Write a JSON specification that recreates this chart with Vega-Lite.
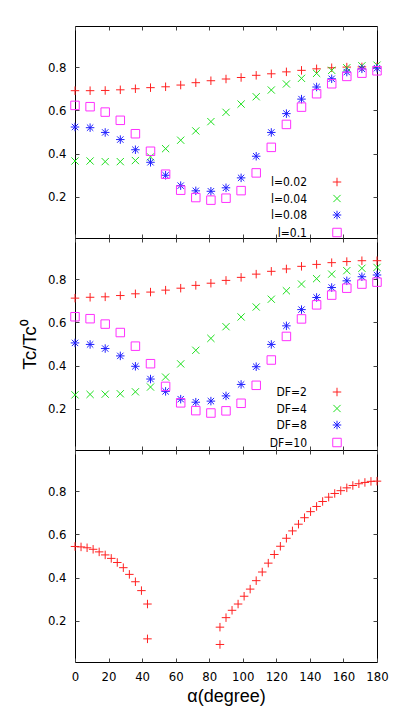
{
  "$schema": "https://vega.github.io/schema/vega-lite/v6.json",
  "padding": {"left": 19, "top": 25, "right": 5, "bottom": 5},
  "background": "white",
  "config": {
    "view": {"stroke": "black", "strokeWidth": 1},
    "axis": {"grid": false, "domain": false, "tickSize": -4, "tickColor": "#444", "labelFlush": false, "labelOverlap": false, "labelFont": "Liberation Sans Narrow, DejaVu Sans Condensed, Liberation Sans", "labelFontSize": 13, "labelColor": "black", "titleFont": "Liberation Sans", "titleFontWeight": "normal", "titleColor": "black"},
    "legend": {"labelFont": "Liberation Sans Narrow, DejaVu Sans Condensed, Liberation Sans", "labelFontSize": 12, "labelColor": "black"}
  },
  "datasets": {
    "p1": [
      {"a":0,"t":0.691,"s":"l=0.02"},{"a":9,"t":0.691,"s":"l=0.02"},{"a":18,"t":0.692,"s":"l=0.02"},{"a":27,"t":0.695,"s":"l=0.02"},{"a":36,"t":0.7,"s":"l=0.02"},{"a":45,"t":0.705,"s":"l=0.02"},{"a":54,"t":0.709,"s":"l=0.02"},{"a":63,"t":0.717,"s":"l=0.02"},{"a":72,"t":0.728,"s":"l=0.02"},{"a":81,"t":0.737,"s":"l=0.02"},{"a":90,"t":0.745,"s":"l=0.02"},{"a":99,"t":0.752,"s":"l=0.02"},{"a":108,"t":0.762,"s":"l=0.02"},{"a":117,"t":0.769,"s":"l=0.02"},{"a":126,"t":0.778,"s":"l=0.02"},{"a":135,"t":0.785,"s":"l=0.02"},{"a":144,"t":0.792,"s":"l=0.02"},{"a":153,"t":0.797,"s":"l=0.02"},{"a":162,"t":0.8,"s":"l=0.02"},{"a":171,"t":0.801,"s":"l=0.02"},{"a":180,"t":0.802,"s":"l=0.02"},
      {"a":0,"t":0.366,"s":"l=0.04"},{"a":9,"t":0.366,"s":"l=0.04"},{"a":18,"t":0.363,"s":"l=0.04"},{"a":27,"t":0.363,"s":"l=0.04"},{"a":36,"t":0.368,"s":"l=0.04"},{"a":45,"t":0.385,"s":"l=0.04"},{"a":54,"t":0.423,"s":"l=0.04"},{"a":63,"t":0.462,"s":"l=0.04"},{"a":72,"t":0.505,"s":"l=0.04"},{"a":81,"t":0.548,"s":"l=0.04"},{"a":90,"t":0.591,"s":"l=0.04"},{"a":99,"t":0.629,"s":"l=0.04"},{"a":108,"t":0.663,"s":"l=0.04"},{"a":117,"t":0.694,"s":"l=0.04"},{"a":126,"t":0.722,"s":"l=0.04"},{"a":135,"t":0.748,"s":"l=0.04"},{"a":144,"t":0.771,"s":"l=0.04"},{"a":153,"t":0.785,"s":"l=0.04"},{"a":162,"t":0.797,"s":"l=0.04"},{"a":171,"t":0.806,"s":"l=0.04"},{"a":180,"t":0.809,"s":"l=0.04"},
      {"a":0,"t":0.523,"s":"l=0.08"},{"a":9,"t":0.52,"s":"l=0.08"},{"a":18,"t":0.498,"s":"l=0.08"},{"a":27,"t":0.465,"s":"l=0.08"},{"a":36,"t":0.418,"s":"l=0.08"},{"a":45,"t":0.36,"s":"l=0.08"},{"a":54,"t":0.3,"s":"l=0.08"},{"a":63,"t":0.252,"s":"l=0.08"},{"a":72,"t":0.228,"s":"l=0.08"},{"a":81,"t":0.226,"s":"l=0.08"},{"a":90,"t":0.242,"s":"l=0.08"},{"a":99,"t":0.288,"s":"l=0.08"},{"a":108,"t":0.388,"s":"l=0.08"},{"a":117,"t":0.498,"s":"l=0.08"},{"a":126,"t":0.585,"s":"l=0.08"},{"a":135,"t":0.652,"s":"l=0.08"},{"a":144,"t":0.708,"s":"l=0.08"},{"a":153,"t":0.746,"s":"l=0.08"},{"a":162,"t":0.777,"s":"l=0.08"},{"a":171,"t":0.792,"s":"l=0.08"},{"a":180,"t":0.795,"s":"l=0.08"},
      {"a":0,"t":0.623,"s":"l=0.1"},{"a":9,"t":0.617,"s":"l=0.1"},{"a":18,"t":0.592,"s":"l=0.1"},{"a":27,"t":0.554,"s":"l=0.1"},{"a":36,"t":0.492,"s":"l=0.1"},{"a":45,"t":0.411,"s":"l=0.1"},{"a":54,"t":0.305,"s":"l=0.1"},{"a":63,"t":0.231,"s":"l=0.1"},{"a":72,"t":0.197,"s":"l=0.1"},{"a":81,"t":0.185,"s":"l=0.1"},{"a":90,"t":0.194,"s":"l=0.1"},{"a":99,"t":0.229,"s":"l=0.1"},{"a":108,"t":0.311,"s":"l=0.1"},{"a":117,"t":0.429,"s":"l=0.1"},{"a":126,"t":0.535,"s":"l=0.1"},{"a":135,"t":0.615,"s":"l=0.1"},{"a":144,"t":0.677,"s":"l=0.1"},{"a":153,"t":0.723,"s":"l=0.1"},{"a":162,"t":0.757,"s":"l=0.1"},{"a":171,"t":0.772,"s":"l=0.1"},{"a":180,"t":0.783,"s":"l=0.1"}
    ],
    "p2": [
      {"a":0,"t":0.712,"s":"DF=2"},{"a":9,"t":0.716,"s":"DF=2"},{"a":18,"t":0.718,"s":"DF=2"},{"a":27,"t":0.724,"s":"DF=2"},{"a":36,"t":0.732,"s":"DF=2"},{"a":45,"t":0.74,"s":"DF=2"},{"a":54,"t":0.749,"s":"DF=2"},{"a":63,"t":0.758,"s":"DF=2"},{"a":72,"t":0.771,"s":"DF=2"},{"a":81,"t":0.781,"s":"DF=2"},{"a":90,"t":0.794,"s":"DF=2"},{"a":99,"t":0.808,"s":"DF=2"},{"a":108,"t":0.823,"s":"DF=2"},{"a":117,"t":0.836,"s":"DF=2"},{"a":126,"t":0.847,"s":"DF=2"},{"a":135,"t":0.859,"s":"DF=2"},{"a":144,"t":0.868,"s":"DF=2"},{"a":153,"t":0.876,"s":"DF=2"},{"a":162,"t":0.881,"s":"DF=2"},{"a":171,"t":0.885,"s":"DF=2"},{"a":180,"t":0.885,"s":"DF=2"},
      {"a":0,"t":0.265,"s":"DF=4"},{"a":9,"t":0.267,"s":"DF=4"},{"a":18,"t":0.268,"s":"DF=4"},{"a":27,"t":0.27,"s":"DF=4"},{"a":36,"t":0.279,"s":"DF=4"},{"a":45,"t":0.301,"s":"DF=4"},{"a":54,"t":0.347,"s":"DF=4"},{"a":63,"t":0.408,"s":"DF=4"},{"a":72,"t":0.471,"s":"DF=4"},{"a":81,"t":0.526,"s":"DF=4"},{"a":90,"t":0.58,"s":"DF=4"},{"a":99,"t":0.625,"s":"DF=4"},{"a":108,"t":0.671,"s":"DF=4"},{"a":117,"t":0.707,"s":"DF=4"},{"a":126,"t":0.746,"s":"DF=4"},{"a":135,"t":0.777,"s":"DF=4"},{"a":144,"t":0.802,"s":"DF=4"},{"a":153,"t":0.823,"s":"DF=4"},{"a":162,"t":0.839,"s":"DF=4"},{"a":171,"t":0.85,"s":"DF=4"},{"a":180,"t":0.854,"s":"DF=4"},
      {"a":0,"t":0.505,"s":"DF=8"},{"a":9,"t":0.498,"s":"DF=8"},{"a":18,"t":0.479,"s":"DF=8"},{"a":27,"t":0.445,"s":"DF=8"},{"a":36,"t":0.397,"s":"DF=8"},{"a":45,"t":0.338,"s":"DF=8"},{"a":54,"t":0.281,"s":"DF=8"},{"a":63,"t":0.245,"s":"DF=8"},{"a":72,"t":0.231,"s":"DF=8"},{"a":81,"t":0.236,"s":"DF=8"},{"a":90,"t":0.26,"s":"DF=8"},{"a":99,"t":0.313,"s":"DF=8"},{"a":108,"t":0.395,"s":"DF=8"},{"a":117,"t":0.498,"s":"DF=8"},{"a":126,"t":0.584,"s":"DF=8"},{"a":135,"t":0.659,"s":"DF=8"},{"a":144,"t":0.715,"s":"DF=8"},{"a":153,"t":0.761,"s":"DF=8"},{"a":162,"t":0.792,"s":"DF=8"},{"a":171,"t":0.811,"s":"DF=8"},{"a":180,"t":0.819,"s":"DF=8"},
      {"a":0,"t":0.626,"s":"DF=10"},{"a":9,"t":0.617,"s":"DF=10"},{"a":18,"t":0.592,"s":"DF=10"},{"a":27,"t":0.553,"s":"DF=10"},{"a":36,"t":0.49,"s":"DF=10"},{"a":45,"t":0.409,"s":"DF=10"},{"a":54,"t":0.304,"s":"DF=10"},{"a":63,"t":0.228,"s":"DF=10"},{"a":72,"t":0.192,"s":"DF=10"},{"a":81,"t":0.181,"s":"DF=10"},{"a":90,"t":0.191,"s":"DF=10"},{"a":99,"t":0.226,"s":"DF=10"},{"a":108,"t":0.309,"s":"DF=10"},{"a":117,"t":0.426,"s":"DF=10"},{"a":126,"t":0.535,"s":"DF=10"},{"a":135,"t":0.616,"s":"DF=10"},{"a":144,"t":0.681,"s":"DF=10"},{"a":153,"t":0.726,"s":"DF=10"},{"a":162,"t":0.758,"s":"DF=10"},{"a":171,"t":0.777,"s":"DF=10"},{"a":180,"t":0.786,"s":"DF=10"}
    ],
    "p3": [
      {"a":0,"t":0.544},{"a":3.6,"t":0.542},{"a":7.2,"t":0.538},{"a":10.8,"t":0.531},{"a":14.4,"t":0.519},{"a":18,"t":0.505},{"a":21.6,"t":0.489},{"a":25.2,"t":0.47},{"a":28.8,"t":0.446},{"a":32.4,"t":0.415},{"a":36,"t":0.381},{"a":39.6,"t":0.34},{"a":43.2,"t":0.278},{"a":43.2,"t":0.117},
      {"a":86.4,"t":0.171},{"a":86.4,"t":0.091},{"a":90,"t":0.215},{"a":93.6,"t":0.249},{"a":97.2,"t":0.278},{"a":100.8,"t":0.314},{"a":104.4,"t":0.347},{"a":108,"t":0.386},{"a":111.6,"t":0.426},{"a":115.2,"t":0.467},{"a":118.8,"t":0.507},{"a":122.4,"t":0.545},{"a":126,"t":0.582},{"a":129.6,"t":0.616},{"a":133.2,"t":0.647},{"a":136.8,"t":0.677},{"a":140.4,"t":0.705},{"a":144,"t":0.729},{"a":147.6,"t":0.752},{"a":151.2,"t":0.772},{"a":154.8,"t":0.789},{"a":158.4,"t":0.802},{"a":162,"t":0.815},{"a":165.6,"t":0.826},{"a":169.2,"t":0.834},{"a":172.8,"t":0.84},{"a":176.4,"t":0.845},{"a":180,"t":0.846}
    ]
  },
  "vconcat": [
    {
      "width": 302, "height": 212,
      "data": {"name": "p1"},
      "layer": [
        {
          "mark": {"type": "point", "filled": false, "opacity": 1, "strokeWidth": 1, "size": 72},
          "encoding": {
            "x": {"field": "a", "type": "quantitative", "scale": {"domain": [0, 180], "nice": false}, "axis": {"orient": "bottom", "labels": false, "values": [0,20,40,60,80,100,120,140,160,180], "title": null}},
            "y": {"field": "t", "type": "quantitative", "scale": {"domain": [0.01, 0.99], "nice": false, "zero": false}, "axis": {"orient": "left", "values": [0.2,0.4,0.6,0.8], "format": ".1f", "labelPadding": 13, "title": null}},
            "color": {"field": "s", "type": "nominal", "scale": {"domain": ["l=0.02","l=0.04","l=0.08","l=0.1"], "range": ["#ff2020","#20e020","#2020ff","#ff30ff"]},
              "legend": {"orient": "none", "legendX": 256, "legendY": 150, "title": null, "padding": 0, "labelAlign": "right", "labelOffset": -36, "rowPadding": 3.5, "symbolSize": 72, "symbolStrokeWidth": 1, "symbolOpacity": 1}},
            "shape": {"field": "s", "type": "nominal", "scale": {"domain": ["l=0.02","l=0.04","l=0.08","l=0.1"], "range": ["M-1,0L1,0M0,-1L0,1", "M-0.85,-0.85L0.85,0.85M-0.85,0.85L0.85,-0.85", "M-1,0L1,0M0,-1L0,1M-0.75,-0.75L0.75,0.75M-0.75,0.75L0.75,-0.75", "M-1,-1H1V1H-1Z"]},
              "legend": {"orient": "none", "legendX": 256, "legendY": 150, "title": null, "padding": 0, "labelAlign": "right", "labelOffset": -36, "rowPadding": 3.5, "symbolSize": 72, "symbolStrokeWidth": 1, "symbolOpacity": 1}}
          }
        },
        {
          "mark": {"type": "point", "opacity": 0},
          "encoding": {
            "x": {"field": "a", "type": "quantitative", "axis": {"orient": "top", "labels": false, "values": [0,20,40,60,80,100,120,140,160,180], "title": null}},
            "y": {"field": "t", "type": "quantitative", "axis": {"orient": "right", "labels": false, "values": [0.2,0.4,0.6,0.8], "title": null}}
          }
        }
      ],
      "resolve": {"axis": {"x": "independent", "y": "independent"}}
    },
    {
      "width": 302, "height": 212,
      "data": {"name": "p2"},
      "layer": [
        {
          "mark": {"type": "point", "filled": false, "opacity": 1, "strokeWidth": 1, "size": 72},
          "encoding": {
            "x": {"field": "a", "type": "quantitative", "scale": {"domain": [0, 180], "nice": false}, "axis": {"orient": "bottom", "labels": false, "values": [0,20,40,60,80,100,120,140,160,180], "title": null}},
            "y": {"field": "t", "type": "quantitative", "scale": {"domain": [0.01, 0.99], "nice": false, "zero": false}, "axis": {"orient": "left", "values": [0.2,0.4,0.6,0.8], "format": ".1f", "labelPadding": 13, "title": "Tc/Tc⁰", "titleFontSize": 19, "titlePadding": 8}},
            "color": {"field": "s", "type": "nominal", "scale": {"domain": ["DF=2","DF=4","DF=8","DF=10"], "range": ["#ff2020","#20e020","#2020ff","#ff30ff"]},
              "legend": {"orient": "none", "legendX": 256, "legendY": 148, "title": null, "padding": 0, "labelAlign": "right", "labelOffset": -36, "rowPadding": 3.5, "symbolSize": 72, "symbolStrokeWidth": 1, "symbolOpacity": 1}},
            "shape": {"field": "s", "type": "nominal", "scale": {"domain": ["DF=2","DF=4","DF=8","DF=10"], "range": ["M-1,0L1,0M0,-1L0,1", "M-0.85,-0.85L0.85,0.85M-0.85,0.85L0.85,-0.85", "M-1,0L1,0M0,-1L0,1M-0.75,-0.75L0.75,0.75M-0.75,0.75L0.75,-0.75", "M-1,-1H1V1H-1Z"]},
              "legend": {"orient": "none", "legendX": 256, "legendY": 148, "title": null, "padding": 0, "labelAlign": "right", "labelOffset": -36, "rowPadding": 3.5, "symbolSize": 72, "symbolStrokeWidth": 1, "symbolOpacity": 1}}
          }
        },
        {
          "mark": {"type": "point", "opacity": 0},
          "encoding": {
            "x": {"field": "a", "type": "quantitative", "axis": {"orient": "top", "labels": false, "values": [0,20,40,60,80,100,120,140,160,180], "title": null}},
            "y": {"field": "t", "type": "quantitative", "axis": {"orient": "right", "labels": false, "values": [0.2,0.4,0.6,0.8], "title": null}}
          }
        }
      ],
      "resolve": {"axis": {"x": "independent", "y": "independent"}}
    },
    {
      "width": 302, "height": 212,
      "data": {"name": "p3"},
      "layer": [
        {
          "mark": {"type": "point", "filled": false, "opacity": 1, "strokeWidth": 1, "size": 72, "color": "#ff2020", "shape": "M-1,0L1,0M0,-1L0,1"},
          "encoding": {
            "x": {"field": "a", "type": "quantitative", "scale": {"domain": [0, 180], "nice": false}, "axis": {"orient": "bottom", "values": [0,20,40,60,80,100,120,140,160,180], "labelPadding": 12, "title": "α(degree)", "titleFontSize": 18, "titlePadding": 4}},
            "y": {"field": "t", "type": "quantitative", "scale": {"domain": [0.01, 0.99], "nice": false, "zero": false}, "axis": {"orient": "left", "values": [0.2,0.4,0.6,0.8], "format": ".1f", "labelPadding": 13, "title": null}}
          }
        },
        {
          "mark": {"type": "point", "opacity": 0},
          "encoding": {
            "x": {"field": "a", "type": "quantitative", "axis": {"orient": "top", "labels": false, "values": [0,20,40,60,80,100,120,140,160,180], "title": null}},
            "y": {"field": "t", "type": "quantitative", "axis": {"orient": "right", "labels": false, "values": [0.2,0.4,0.6,0.8], "title": null}}
          }
        }
      ],
      "resolve": {"axis": {"x": "independent", "y": "independent"}}
    }
  ],
  "resolve": {"scale": {"color": "independent", "shape": "independent"}, "legend": {"color": "independent", "shape": "independent"}},
  "spacing": 0,
  "bounds": "flush"
}
